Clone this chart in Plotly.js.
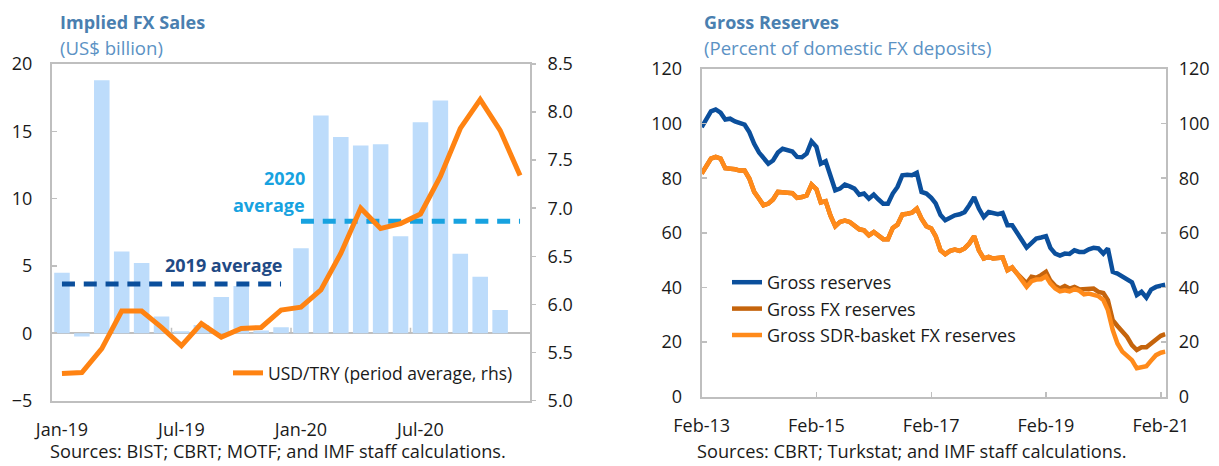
<!DOCTYPE html>
<html>
<head>
<meta charset="utf-8">
<script src="https://cdn.plot.ly/plotly-3.0.1.min.js"></script>
<style>
  html, body { margin: 0; padding: 0; background: #fff; }
  #chart { width: 1219px; height: 466px; }
</style>
</head>
<body>
<div id="chart"></div>
<script>
// ---------- Left panel: Implied FX Sales ----------
const months = ['Jan-19','Feb-19','Mar-19','Apr-19','May-19','Jun-19','Jul-19','Aug-19','Sep-19','Oct-19','Nov-19','Dec-19',
                'Jan-20','Feb-20','Mar-20','Apr-20','May-20','Jun-20','Jul-20','Aug-20','Sep-20','Oct-20','Nov-20','Dec-20'];
const fxSales = [4.5, -0.25, 18.8, 6.07, 5.22, 1.24, 0.15, 0.6, 2.69, 3.5, 0.2, 0.45,
                 6.32, 16.17, 14.58, 13.95, 14.03, 7.21, 15.67, 17.29, 5.9, 4.2, 1.72, null];
const usdTry = [5.28, 5.29, 5.54, 5.93, 5.93, 5.76, 5.57, 5.80, 5.66, 5.75, 5.76, 5.94,
                5.97, 6.15, 6.53, 7.00, 6.79, 6.84, 6.94, 7.33, 7.83, 8.13, 7.81, 7.34];
const avg2019 = 3.66;
const avg2020 = 8.31;
const leftTickMonths = ['Jan-19','Jul-19','Jan-20','Jul-20'];
const leftBoundaryTicks = [5.5, 11.5, 17.5];

// ---------- Right panel: Gross Reserves (monthly, Feb-13 .. Mar-21) ----------
const grossReserves = [98.7,101.5,104.5,105.2,104,101.5,101.8,100.8,100.3,99.6,96.9,92.6,
  89.4,87.2,85.3,86.5,89.4,90.8,90.2,89.8,87.8,87.7,89,93.5,
  91.5,85.3,86.2,80.4,75.6,76.2,77.7,77,76.2,74,74.4,72.5,
  74,72.3,70.7,70.7,74.4,76.8,81.1,81.3,81.1,82,75,74.4,
  72.8,70.8,66.5,64.6,65.6,66.4,66.8,67.6,70.1,73.1,68.9,65.8,
  67.6,67.3,66.8,67.3,62.8,62.8,60.3,57.3,54.6,56.1,57.9,58.3,
  58.8,54.5,52.4,51.7,52.4,52.3,53.6,53,53,54,54.5,54.3,
  52.4,54.3,45.7,45.1,44.1,42.7,41.9,37.2,38.4,36.3,39.2,40.2,
  40.7,41];
const grossFX = [81.7,84.1,87.2,87.8,87.2,83.7,83.7,83.3,82.8,82.8,79.9,75,
  72.5,70.1,70.7,72.2,75,75,74.7,74.5,72.8,73.1,73.7,77.7,
  76,71.1,71.6,66.4,62.4,64,64.5,64,62.8,61.3,60.9,59.1,
  60.3,59.1,57.7,57.7,61.8,63,66.7,67,67.4,68.9,65.2,62.4,
  61.6,58.8,53.6,52.2,53.4,53.9,53.4,54.3,56.1,58.8,53.6,50.6,
  51.2,50.6,51,51,46.3,47.3,45.1,43,41.5,43.9,43.6,44.5,
  45.7,42.5,40.6,39.6,40.5,39.6,40.2,39.3,39.3,39.6,39.6,38.4,
  38,35.4,28,25.9,23.8,21.9,18.9,17.1,18.1,18.1,19.5,21.1,
  22.3,22.9];
const grossSDR = [81.7,84.1,87.2,87.8,87.2,83.7,83.7,83.3,82.8,82.8,79.9,75,
  72.5,70.1,70.7,72.2,75,75,74.7,74.5,72.8,73.1,73.7,77.7,
  76,71.1,71.6,66.4,62.4,64,64.5,64,62.8,61.3,60.9,59.1,
  60.3,59.1,57.7,57.7,61.8,63,66.7,67,67.4,68.9,65.2,62.4,
  61.6,58.8,53.6,52.2,53.4,53.9,53.4,54.3,56.1,58.8,53.6,50.6,
  51.2,50.6,51,51,46.3,47.3,45.1,42.7,40.2,42.3,42.9,43,
  44.1,41.5,39.6,38.6,39,38.6,39.4,38.8,37.5,37.8,37.5,36.8,
  35.4,31.7,24.4,19.5,16.5,15.2,13.4,10.4,11,11.2,13.2,15.2,
  16.1,16.5];
const rightTickDates = ['2013-02-01','2015-02-01','2017-02-01','2019-02-01','2021-02-01'];
const rightTickText = ['Feb-13','Feb-15','Feb-17','Feb-19','Feb-21'];

// month dates for the right panel (Feb-2013 onward)
const resDates = grossReserves.map((_, k) => {
  const m = 1 + k;
  const yr = 2013 + Math.floor(m / 12);
  const mo = (m % 12) + 1;
  return yr + '-' + String(mo).padStart(2, '0') + '-01';
});

const idx = months.map((_, i) => i);
const idx2019 = idx.filter(i => months[i].endsWith('19'));
const idx2020 = idx.filter(i => months[i].endsWith('20'));

const FONT = '"Open Sans", "Noto Sans", sans-serif';
const W = 1219, H = 466;
const px = v => v / W;
const py = v => 1 - v / H;
const frameCol = '#bfbfbf';

const traces = [
  { type: 'bar', x: idx, y: fxSales, xaxis: 'x', yaxis: 'y', marker: { color: '#bddcfb' },
    showlegend: false, hoverinfo: 'x+y', name: 'Implied FX sales' },
  { type: 'scatter', mode: 'lines', x: idx2019, y: idx2019.map(() => avg2019), xaxis: 'x', yaxis: 'y',
    line: { color: '#0b4f9c', width: 5, dash: '13px,8.8px' }, showlegend: false, name: '2019 average' },
  { type: 'scatter', mode: 'lines', x: idx2020, y: idx2020.map(() => avg2020), xaxis: 'x', yaxis: 'y',
    line: { color: '#17a2e0', width: 5, dash: '13px,8.8px' }, showlegend: false, name: '2020 average' },
  { type: 'scatter', mode: 'lines', x: idx, y: usdTry, xaxis: 'x', yaxis: 'y2',
    line: { color: '#ff8312', width: 5 }, name: 'USD/TRY (period average, rhs)', legend: 'legend' },

  { type: 'scatter', mode: 'lines', x: resDates, y: grossReserves, xaxis: 'x3', yaxis: 'y3',
    line: { color: '#0b4f9c', width: 4.5 }, name: 'Gross reserves', legend: 'legend2' },
  { type: 'scatter', mode: 'lines', x: resDates, y: grossFX, xaxis: 'x3', yaxis: 'y3',
    line: { color: '#c5640c', width: 4.5 }, name: 'Gross FX reserves', legend: 'legend2' },
  { type: 'scatter', mode: 'lines', x: resDates, y: grossSDR, xaxis: 'x3', yaxis: 'y3',
    line: { color: '#ff8a1a', width: 4.5 }, name: 'Gross SDR-basket FX reserves', legend: 'legend2' },
  { type: 'scatter', mode: 'lines', x: resDates, y: grossReserves, xaxis: 'x3', yaxis: 'y4',
    line: { color: 'rgba(0,0,0,0)', width: 0 }, showlegend: false, hoverinfo: 'skip' }
];

const tickFont = { family: FONT, size: 18, color: '#1a1a1a' };

const layout = {
  width: W, height: H,
  margin: { l: 0, r: 0, t: 0, b: 0 },
  paper_bgcolor: '#ffffff', plot_bgcolor: 'rgba(0,0,0,0)',
  font: { family: FONT, size: 18, color: '#1a1a1a' },
  bargap: 0.22,
  xaxis: {
    domain: [px(52), px(530)], range: [-0.5, 23.5], anchor: 'y',
    tickvals: leftTickMonths.map(m => months.indexOf(m)), ticktext: leftTickMonths,
    ticks: '', showline: true, mirror: true, linecolor: frameCol, linewidth: 2,
    showgrid: false, zeroline: false, tickfont: tickFont, ticklabelstandoff: 12
  },
  yaxis: {
    domain: [py(400.5), py(64)], range: [-5, 20], dtick: 5, anchor: 'x',
    ticks: 'inside', ticklen: 5, tickcolor: frameCol, tickwidth: 1.5,
    showline: true, mirror: true, linecolor: frameCol, linewidth: 2,
    zeroline: true, zerolinecolor: frameCol, zerolinewidth: 2,
    showgrid: false, tickfont: tickFont, ticklabelstandoff: 14
  },
  yaxis2: {
    overlaying: 'y', side: 'right', anchor: 'x', range: [5, 8.5], dtick: 0.5, tickformat: '.1f',
    ticks: 'outside', ticklen: 5, tickcolor: frameCol, tickwidth: 1.5,
    showline: false, showgrid: false, zeroline: false, tickfont: tickFont, ticklabelstandoff: 8
  },
  xaxis3: {
    domain: [px(701.7), px(1165.7)], type: 'date', range: ['2013-02-01', '2021-03-04'], anchor: 'y3',
    tickvals: rightTickDates, ticktext: rightTickText,
    ticks: 'inside', ticklen: 5, tickcolor: frameCol, tickwidth: 1.5,
    showline: true, mirror: true, linecolor: frameCol, linewidth: 2,
    showgrid: false, zeroline: false, tickfont: tickFont, ticklabelstandoff: 12
  },
  yaxis3: {
    domain: [py(396.7), py(69)], range: [0, 120], dtick: 20, anchor: 'x3',
    ticks: 'inside', ticklen: 5, tickcolor: frameCol, tickwidth: 1.5,
    showline: true, mirror: true, linecolor: frameCol, linewidth: 2,
    showgrid: false, zeroline: false, tickfont: tickFont, ticklabelstandoff: 14
  },
  yaxis4: {
    overlaying: 'y3', side: 'right', anchor: 'x3', range: [0, 120], dtick: 20,
    ticks: 'inside', ticklen: 5, tickcolor: frameCol, tickwidth: 1.5,
    showline: false, showgrid: false, zeroline: false, tickfont: tickFont, ticklabelstandoff: 12
  },
  legend: {
    x: px(228), y: py(373), xanchor: 'left', yanchor: 'middle',
    bgcolor: 'rgba(0,0,0,0)', font: { family: FONT, size: 17.5, color: '#1a1a1a' }
  },
  legend2: {
    x: px(727), y: py(309), xanchor: 'left', yanchor: 'middle', tracegroupgap: 0,
    bgcolor: 'rgba(0,0,0,0)', font: { family: FONT, size: 18, color: '#1a1a1a' }
  },
  shapes: leftBoundaryTicks.map(b => ({
    type: 'line', xref: 'x', yref: 'y', x0: b, x1: b, y0: 0, y1: 0.4,
    line: { color: frameCol, width: 1.5 }
  })),
  annotations: [
    { xref: 'paper', yref: 'paper', x: px(58), y: py(22), xanchor: 'left', yanchor: 'middle', showarrow: false,
      text: '<b>Implied FX Sales</b>', font: { family: FONT, size: 18, color: '#4a7fb0' } },
    { xref: 'paper', yref: 'paper', x: px(58), y: py(48), xanchor: 'left', yanchor: 'middle', showarrow: false,
      text: '(US$ billion)', font: { family: FONT, size: 18.6, color: '#5b92c4' } },
    { xref: 'paper', yref: 'paper', x: px(702), y: py(22), xanchor: 'left', yanchor: 'middle', showarrow: false,
      text: '<b>Gross Reserves</b>', font: { family: FONT, size: 18, color: '#4a7fb0' } },
    { xref: 'paper', yref: 'paper', x: px(702), y: py(48), xanchor: 'left', yanchor: 'middle', showarrow: false,
      text: '(Percent of domestic FX deposits)', font: { family: FONT, size: 18.6, color: '#5b92c4' } },
    { xref: 'paper', yref: 'paper', x: px(48), y: py(451), xanchor: 'left', yanchor: 'middle', showarrow: false,
      text: 'Sources: BIST; CBRT; MOTF; and IMF staff calculations.', font: { family: FONT, size: 18.2, color: '#1a1a1a' } },
    { xref: 'paper', yref: 'paper', x: px(695), y: py(451), xanchor: 'left', yanchor: 'middle', showarrow: false,
      text: 'Sources: CBRT; Turkstat; and IMF staff calculations.', font: { family: FONT, size: 18.2, color: '#1a1a1a' } },
    { xref: 'paper', yref: 'paper', x: px(307), y: py(178), xanchor: 'right', yanchor: 'middle', showarrow: false,
      text: '<b>2020</b>', font: { family: FONT, size: 18, color: '#17a2e0' } },
    { xref: 'paper', yref: 'paper', x: px(307), y: py(205), xanchor: 'right', yanchor: 'middle', showarrow: false,
      text: '<b>average</b>', font: { family: FONT, size: 18, color: '#17a2e0' } },
    { xref: 'paper', yref: 'paper', x: px(284), y: py(265), xanchor: 'right', yanchor: 'middle', showarrow: false,
      text: '<b>2019 average</b>', font: { family: FONT, size: 18, color: '#1f4a85' } }
  ]
};

Plotly.newPlot('chart', traces, layout, { displayModeBar: false, staticPlot: true });
</script>
</body>
</html>
